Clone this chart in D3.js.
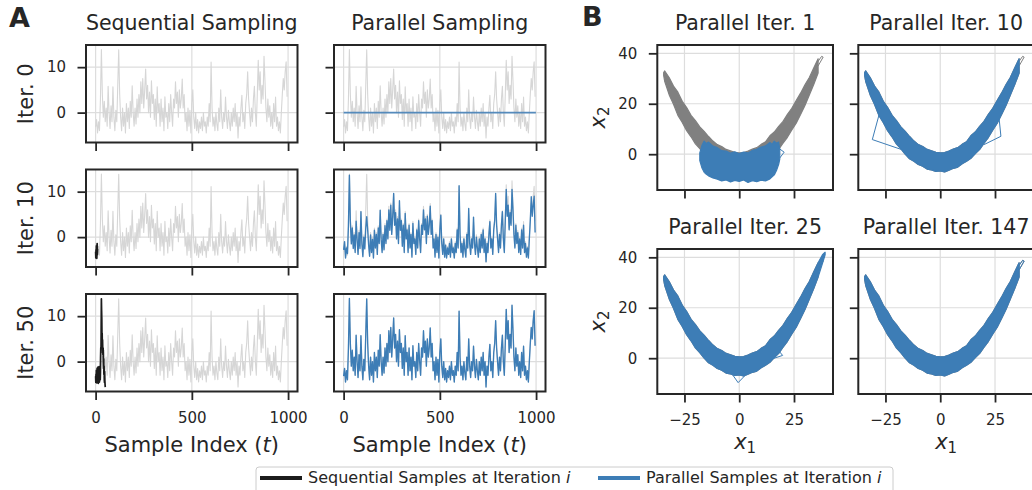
<!DOCTYPE html>
<html>
<head>
<meta charset="utf-8">
<script src="https://cdn.jsdelivr.net/npm/d3@7"></script>
<style>
  body { margin: 0; background: #fff; }
  svg { display: block; font-family: "DejaVu Sans", sans-serif; }
</style>
</head>
<body>
<svg id="fig" width="1032" height="490"></svg>
<script>
// ---------- Panel A: chains over sample index ----------
const T_STEP = 5; // one stored value every 5 samples

// reference (converged) chain, t = 0, 5, ..., 995
const trueChain = [
  -3.2, -1.5, -4.5, -2.0, -4.0, 3.0, 13.9, 4.0, -1.0, 2.5,
  -2.0, 1.0, -3.0, 5.8, 0.0, -3.5, 1.5, -2.0, 5.7, -1.0,
  -4.0, 0.5, -2.0, 6.0, 13.8, 4.0, -1.0, -4.0, 1.0, -3.0,
  0.0, -4.5, 2.0, -2.0, 1.0, -3.5, 2.5, -1.0, 5.9, 0.0,
  -3.0, 1.0, -2.5, 3.0, -1.0, 4.0, 0.0, 6.8, 2.0, 7.5,
  1.0, 5.0, 9.6, 3.0, 6.0, 0.0, 4.5, -1.0, 7.0, 2.0,
  4.0, -1.5, 3.0, -3.0, 5.7, 0.0, 2.0, -3.0, 3.0, -2.0,
  1.0, -4.0, 3.5, -1.0, 0.0, -3.5, 2.0, -2.0, 4.0, 0.0,
  -3.0, 3.0, 1.0, 6.8, 2.0, 4.5, -1.0, 5.0, 1.0, 3.0,
  7.4, 1.0, 4.0, -2.0, 0.0, -4.0, 1.0, -3.0, 0.5, -4.5,
  2.0, 5.0, -1.0, -3.5, 0.0, -4.0, -1.5, -4.5, -2.0, -3.5,
  -1.0, -4.0, 0.0, -3.0, -2.0, -4.5, -1.0, -3.0, 2.0, -2.0,
  11.1, 1.0, -3.0, -1.0, -4.0, 0.0, -2.5, -4.0, 1.0, -2.0,
  5.0, -1.0, -3.5, 0.0, -2.0, 3.4, -1.0, -3.5, 0.5, -2.0,
  -4.0, 0.0, -3.0, 1.0, -2.0, 2.0, -3.0, 0.0, -5.6, -1.0,
  -3.0, 1.0, 3.8, -2.0, 0.0, -3.5, 2.0, 4.0, 9.0, 3.0,
  0.0, -3.0, 1.0, -2.0, 3.0, 5.8, 0.0, -3.0, 4.0, 11.5,
  5.0, 9.0, 2.0, 6.0, 3.0, 12.4, 7.0, 1.0, -2.0, 3.0,
  -1.0, 1.5, -3.0, 0.0, -3.5, 2.0, -2.0, 3.4, -3.0, -1.0,
  -4.0, -2.0, -4.5, 0.0, 4.0, 7.5, 5.0, 9.0, 11.2, 3.5
];

// parallel estimate after 10 iterations, t = 0, 5, ..., 995
const parallelIter10 = [
  -2.8, -1.0, -4.6, -2.4, -3.6, 2.5, 13.6, 3.5, -1.5, 2.0,
  -2.5, 0.5, -3.4, 3.5, -0.5, -3.8, 1.0, -2.5, 5.6, -1.5,
  -4.3, 0.0, -2.6, 2.0, 4.5, 1.5, -1.8, -4.2, 0.5, -3.4,
  -0.5, -4.6, 1.5, -2.4, 0.6, -3.8, 2.0, -1.4, 5.9, -0.5,
  -3.4, 0.6, -2.8, 2.5, -1.4, 3.6, -0.4, 6.0, 1.5, 7.0,
  0.6, 4.5, 9.6, 2.6, 5.4, -0.4, 4.0, -1.4, 8.0, 1.5,
  3.6, -2.0, 2.6, -3.4, 5.2, -0.4, 1.6, -3.4, 2.6, -2.4,
  0.6, -4.4, 3.0, -1.4, -0.4, -3.8, 1.6, -2.4, 3.6, -0.4,
  -3.4, 2.6, 0.6, 6.0, 1.6, 4.0, -1.4, 4.6, 0.6, 2.6,
  6.8, 0.6, 3.6, -2.4, -0.4, -4.4, 0.6, -3.4, 0.0, -4.6,
  1.6, 4.8, -1.4, -3.8, -0.4, -4.4, -1.8, -4.6, -2.4, -3.8,
  -1.4, -4.4, -0.4, -3.4, -2.4, -4.6, -1.4, -3.4, 1.6, -2.4,
  11.3, 0.6, -3.4, -1.4, -4.4, -0.4, -2.8, -4.4, 0.6, -2.4,
  6.3, -1.4, -3.8, -0.4, -2.4, 4.4, -1.4, -3.8, 0.0, -2.4,
  -4.4, -0.4, -3.4, 0.6, -2.4, 1.6, -3.4, -0.4, -5.4, -1.4,
  -3.4, 0.6, 3.4, -2.4, -0.4, -3.8, 1.6, 3.6, 9.6, 2.6,
  -0.4, -3.4, 0.6, -2.4, 2.6, 5.6, -0.4, -3.4, 3.6, 10.5,
  4.6, 7.0, 1.6, 5.4, 2.6, 10.5, 6.0, 0.6, -2.4, 2.6,
  -1.4, 1.0, -3.4, -0.4, -3.8, 1.6, -2.4, 2.6, -3.4, -1.4,
  -4.4, -2.4, -4.6, -0.4, 3.6, 8.9, 4.6, 7.0, 9.0, 1.0
];

// sequential chain, every sample t = 0 ... 50
const sequentialSamples = [
  -3.2, -4.6, -2.8, -4.1, -1.9, -3.6, -4.7, -2.3, -1.4, -3.9,
  -2.6, -4.4, -1.2, -3.0, -4.8, -1.5, -2.7, -4.2, -1.1, -3.3,
  -4.5, -2.0, -3.8, -1.6, -4.0, -2.4, 0.8, 3.1, 1.9, 6.5,
  13.8, 11.2, 9.4, 5.0, 6.2, 3.4, 4.8, 2.9, 1.5, 3.0,
  0.2, -1.5, 0.6, -2.8, -1.0, -3.9, -4.6, -2.2, -4.1, -5.0,
  -5.6
];

// parallel initial guess (all zeros)
const parallelIter0 = [0, 0];
const parallelIter0T = [0, 999];

const rowIters = [0, 10, 50];
const colTitles = ["Sequential Sampling", "Parallel Sampling"];
const tTicks = [0, 500, 1000];
const valueTicks = [0, 10];

// ---------- Panel B: samples in (x1, x2) ----------
// envelope of the banana-shaped cloud: x1 and the x2 range covered at each x1
const bandX1 = [-34.5, -34, -32, -30, -28, -26, -24, -22, -20, -18, -16, -14, -12, -10, -8, -6, -4, -2,
  0, 2, 4, 6, 8, 10, 12, 14, 16, 18, 20, 22, 24, 26, 28, 30, 32, 34, 36, 38, 39.2];
const bandUpper = [32.4, 33.0, 30.4, 27.0, 24.6, 21.0, 18.5, 15.4, 13.3, 10.8, 9.0, 7.0, 5.2, 3.8, 3.0, 1.9, 1.3, 0.7,
  0.5, 0.6, 1.2, 2.0, 2.6, 3.9, 4.9, 7.3, 8.8, 11.0, 13.0, 15.8, 18.2, 21.3, 24.2, 27.5, 30.4, 34.2, 37.8, 41.0, 42.0];
const bandLower = [31.2, 28.8, 23.6, 19.8, 15.4, 12.6, 9.3, 6.9, 4.1, 2.2, 0.0, -1.8, -2.8, -4.1, -4.8, -5.9, -6.2, -6.8,
  -6.6, -7.0, -6.3, -5.6, -5.1, -3.8, -2.8, -1.6, 0.2, 1.9, 4.4, 6.7, 9.6, 12.3, 15.7, 19.3, 23.5, 27.6, 32.2, 37.6, 41.0];

// parallel samples after the first iteration
const blobX1 = [-18, -17, -16, -15, -14, -12, -10, -8, -6, -4, -2, 0, 2, 4, 6, 8, 10, 12, 14, 15, 16, 17, 18, 18.5];
const blobUpper = [0.5, 3.5, 5.2, 4.2, 4.8, 3.2, 2.6, 1.4, 1.2, 0.4, 0.9, 0.2, 0.8, 0.5, 1.5, 1.9, 2.8, 3.3, 4.6, 3.9, 5.2, 4.4, 4.8, 2.0];
const blobLower = [-2.5, -5.5, -7.2, -8.0, -8.6, -9.4, -9.9, -10.6, -10.2, -11.0, -10.4, -10.8, -10.2, -11.2, -10.5, -10.9, -10.3, -10.6, -9.8, -9.0, -8.2, -6.5, -4.0, -2.0];

const tipLoop = [[36, 35], [38.3, 38.5], [37.6, 38.8], [35.5, 36.2]];
const iter1Strays = [[[17, 3], [20.5, 0.8], [18.5, -1.5]]];
const iter10Strays = [
  [[-27.5, 17], [-31, 5.8], [-17.5, 1.8]],
  [[20, 3.8], [27.7, 7.1], [26.7, 15.7]]
];
const iter25Strays = [
  [[-3.5, -6], [-0.5, -9.7], [2.5, -7]],
  [[12.5, -1], [19.8, 1.1], [17.8, 3.2]]
];
const iter10BandEnd = 36;

const bTitles = ["Parallel Iter. 1", "Parallel Iter. 10", "Parallel Iter. 25", "Parallel Iter. 147"];
const x1Ticks = [-25, 0, 25];
const x2Ticks = [0, 20, 40];

const legendLabels = ["Sequential Samples at Iteration ", "Parallel Samples at Iteration "];

// ---------- style ----------
const INK = "#262626";
const GRID = "#dddddd";
const GREY_A = "#d6d6d6";
const GREY_B = "#808080";
const BLUE = "#3d7db6";
const BLACK = "#1c1c1c";
const TITLE_FS = 20.5, LABEL_FS = 21, TICK_FS = 15, LEG_FS = 16;

const svg = d3.select("#fig");

function frame(g, x, y, xt, yt, w, h) {
  g.append("g").selectAll("line").data(xt).join("line")
    .attr("x1", d => x(d)).attr("x2", d => x(d)).attr("y1", 0).attr("y2", h)
    .attr("stroke", GRID).attr("stroke-width", 1.2);
  g.append("g").selectAll("line").data(yt).join("line")
    .attr("y1", d => y(d)).attr("y2", d => y(d)).attr("x1", 0).attr("x2", w)
    .attr("stroke", GRID).attr("stroke-width", 1.2);
}

function axes(g, x, y, xt, yt, showX, showY, w, h) {
  const xa = g.append("g").attr("transform", `translate(0,${h})`)
    .call(d3.axisBottom(x).tickValues(xt).tickSize(8.5).tickFormat(showX ? d3.format("d") : ""));
  const ya = g.append("g")
    .call(d3.axisLeft(y).tickValues(yt).tickSize(8.5).tickFormat(showY ? d3.format("d") : ""));
  [xa, ya].forEach(a => {
    a.select(".domain").remove();
    a.selectAll(".tick line").attr("stroke", INK).attr("stroke-width", 1.8);
    a.selectAll(".tick text").attr("fill", INK).attr("font-size", TICK_FS)
      .attr("font-family", "DejaVu Sans");
  });
  xa.selectAll(".tick text").attr("y", 31).attr("dy", 0);
  ya.selectAll(".tick text").attr("x", -20);
  g.append("rect").attr("width", w).attr("height", h)
    .attr("fill", "none").attr("stroke", INK).attr("stroke-width", 2);
}

// ---------- Panel A ----------
const A_COLS = [86, 334], A_W = 211.5;
const A_ROWS = [45, 169.5, 294], A_H = 97.5;

const ext = d3.extent(trueChain);
const pad = (ext[1] - ext[0]) * 0.05;
const yA = d3.scaleLinear().domain([ext[0] - pad, ext[1] + pad]).range([A_H, 0]);
const xA = d3.scaleLinear().domain([-50, 1049]).range([0, A_W]);

const stepLine = d3.line().x((d, i) => xA(i * T_STEP)).y(d => yA(d));
const unitLine = d3.line().x((d, i) => xA(i)).y(d => yA(d));

svg.append("text").attr("x", 9).attr("y", 27).attr("font-size", 27)
  .attr("font-weight", "bold").attr("fill", INK).text("A");

colTitles.forEach((t, c) => {
  svg.append("text").attr("x", A_COLS[c] + A_W / 2).attr("y", 30)
    .attr("text-anchor", "middle").attr("font-size", TITLE_FS).attr("fill", INK).text(t);
});

rowIters.forEach((iter, r) => {
  [0, 1].forEach(c => {
    const g = svg.append("g").attr("transform", `translate(${A_COLS[c]},${A_ROWS[r]})`);
    frame(g, xA, yA, tTicks, valueTicks, A_W, A_H);
    g.append("path").attr("d", stepLine(trueChain)).attr("fill", "none")
      .attr("stroke", GREY_A).attr("stroke-width", 1.1).attr("stroke-linejoin", "round");
    if (c === 0) {
      if (iter > 0) {
        g.append("path").attr("d", unitLine(sequentialSamples.slice(0, iter + 1)))
          .attr("fill", "none").attr("stroke", BLACK).attr("stroke-width", 1.7)
          .attr("stroke-linejoin", "round");
      }
    } else {
      let d;
      if (iter === 0) {
        d = d3.line().x((v, i) => xA(parallelIter0T[i])).y(v => yA(v))(parallelIter0);
      } else if (iter === 10) {
        d = stepLine(parallelIter10);
      } else {
        d = stepLine(trueChain);
      }
      g.append("path").attr("d", d).attr("fill", "none").attr("stroke", BLUE)
        .attr("stroke-width", iter === 0 ? 1.6 : 1.35).attr("stroke-linejoin", "round")
        .attr("stroke-opacity", iter === 0 ? 0.85 : 1);
    }
    axes(g, xA, yA, tTicks, valueTicks, r === 2, c === 0, A_W, A_H);
  });
  const cy = A_ROWS[r] + A_H / 2;
  svg.append("text").attr("transform", `translate(33,${cy}) rotate(-90)`)
    .attr("text-anchor", "middle").attr("font-size", LABEL_FS).attr("fill", INK)
    .text(`Iter. ${iter}`);
});

A_COLS.forEach(cx => {
  const t = svg.append("text").attr("x", cx + A_W / 2).attr("y", 452)
    .attr("text-anchor", "middle").attr("font-size", LABEL_FS).attr("fill", INK);
  t.append("tspan").text("Sample Index (");
  t.append("tspan").attr("font-style", "italic").text("t");
  t.append("tspan").text(")");
});

// ---------- Panel B ----------
const B_COLS = [657.3, 858.3], B_W = 175.7;
const B_ROWS = [45, 249], B_H = 145;
const xB = d3.scaleLinear().domain([-37.4, 42.8]).range([0, B_W]);
const yB = d3.scaleLinear().domain([-14.2, 43.3]).range([B_H, 0]);

const band = bandX1.map((v, i) => ({ x: v, lo: bandLower[i], hi: bandUpper[i] }));
const blob = blobX1.map((v, i) => ({ x: v, lo: blobLower[i], hi: blobUpper[i] }));
const area = d3.area().x(d => xB(d.x)).y0(d => yB(d.lo)).y1(d => yB(d.hi));
const pairLine = d3.line().x(d => xB(d[0])).y(d => yB(d[1]));

svg.append("text").attr("x", 582).attr("y", 26).attr("font-size", 27)
  .attr("font-weight", "bold").attr("fill", INK).text("B");

function drawArea(g, data, color) {
  g.append("path").attr("d", area(data)).attr("fill", color)
    .attr("stroke", color).attr("stroke-width", 1.2).attr("stroke-linejoin", "round");
}
function drawStrays(g, list, color, closed) {
  list.forEach(s => {
    g.append("path").attr("d", pairLine(closed ? s.concat([s[0]]) : s))
      .attr("fill", "none").attr("stroke", color).attr("stroke-width", 1);
  });
}

bTitles.forEach((title, k) => {
  const r = Math.floor(k / 2), c = k % 2;
  const g = svg.append("g").attr("transform", `translate(${B_COLS[c]},${B_ROWS[r]})`);
  frame(g, xB, yB, x1Ticks, x2Ticks, B_W, B_H);
  // sequential reference samples underneath
  drawArea(g, band.filter(d => d.x <= iter10BandEnd), GREY_B);
  drawStrays(g, [tipLoop], GREY_B, true);
  if (k === 0) {
    drawArea(g, blob, BLUE);
    drawStrays(g, iter1Strays, BLUE, false);
  } else if (k === 1) {
    drawArea(g, band.filter(d => d.x <= iter10BandEnd), BLUE);
    drawStrays(g, iter10Strays, BLUE, false);
  } else if (k === 2) {
    drawArea(g, band, BLUE);
    drawStrays(g, iter25Strays, BLUE, false);
  } else {
    drawArea(g, band.filter(d => d.x <= iter10BandEnd), BLUE);
    drawStrays(g, [tipLoop], BLUE, true);
  }
  axes(g, xB, yB, x1Ticks, x2Ticks, r === 1, c === 0, B_W, B_H);
  svg.append("text").attr("x", B_COLS[c] + B_W / 2).attr("y", B_ROWS[r] - 15)
    .attr("text-anchor", "middle").attr("font-size", TITLE_FS).attr("fill", INK).text(title);
  if (c === 0) {
    const t = svg.append("text")
      .attr("transform", `translate(605,${B_ROWS[r] + B_H / 2}) rotate(-90)`)
      .attr("text-anchor", "middle").attr("font-size", LABEL_FS).attr("fill", INK);
    t.append("tspan").attr("font-style", "italic").text("x");
    t.append("tspan").attr("font-size", 15).attr("dy", 4).text("2");
  }
  if (r === 1) {
    const t = svg.append("text").attr("x", B_COLS[c] + B_W / 2).attr("y", 449)
      .attr("text-anchor", "middle").attr("font-size", LABEL_FS).attr("fill", INK);
    t.append("tspan").attr("font-style", "italic").text("x");
    t.append("tspan").attr("font-size", 15).attr("dy", 4).text("1");
  }
});

// ---------- Legend ----------
const leg = svg.append("g");
leg.append("rect").attr("x", 256).attr("y", 467).attr("width", 637).attr("height", 40)
  .attr("rx", 3).attr("fill", "#fff").attr("stroke", "#cccccc").attr("stroke-width", 1);
const legColors = [BLACK, BLUE];
const legX = [260, 598];
legendLabels.forEach((lab, i) => {
  leg.append("line").attr("x1", legX[i]).attr("x2", legX[i] + 42)
    .attr("y1", 478).attr("y2", 478).attr("stroke", legColors[i]).attr("stroke-width", 4);
  const t = leg.append("text").attr("x", legX[i] + 48).attr("y", 483)
    .attr("font-size", LEG_FS).attr("fill", INK);
  t.append("tspan").text(lab);
  t.append("tspan").attr("font-style", "italic").text("i");
});
</script>
</body>
</html>
